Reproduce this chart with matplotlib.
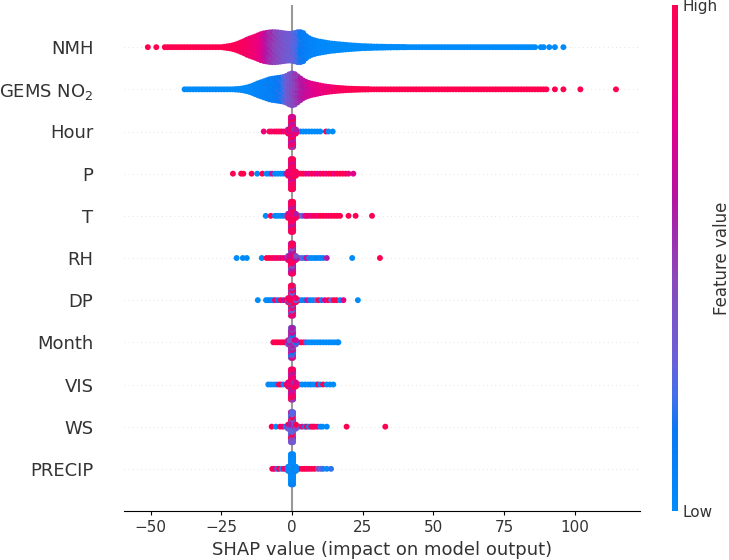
import numpy as np
import matplotlib
matplotlib.use("Agg")
import matplotlib.pyplot as plt
from matplotlib.colors import LinearSegmentedColormap, Normalize
from matplotlib.cm import ScalarMappable

features = ["NMH", "GEMS NO$_2$", "Hour", "P", "T", "RH", "DP", "Month", "VIS", "WS", "PRECIP"]
x_ticks = [-50, -25, 0, 25, 50, 75, 100]

# ---- large swarms: column SHAP value, half-height of the swarm (px), feature tone
nmh_x = [-51, -48, -45, -44, -43, -42, -41, -40, -39, -38, -37, -36, -35, -34, -33, -32, -31, -30, -29, -28, -27, -26,
         -25, -24, -23, -22, -21, -20, -19, -18, -17, -16, -15, -14, -13, -12, -11, -10, -9, -8, -7, -6, -5, -4, -3, -2, -1,
         0, 1, 2, 3, 4, 5, 6, 7, 8, 9, 10, 11, 12, 13, 14, 15, 16, 17, 18, 19, 20, 21, 22, 23, 24, 25, 26, 27, 28, 29, 30,
         31, 32, 33, 34, 35, 36, 37, 38, 39, 40, 41, 42, 43, 44, 45, 46, 47, 48, 49, 50, 51, 52, 53, 54, 55, 56, 57, 58, 59,
         60, 61, 62, 63, 64, 65, 66, 67, 68, 69, 70, 71, 72, 73, 74, 75, 76, 77, 78, 79, 80, 81, 82, 83, 84, 85, 86, 88, 89, 91, 93, 96]
nmh_h = [0]*22 + [0, 0.4, 0.8, 1.2, 1.8, 2.6, 3.6, 4.8, 6, 7.5, 8.6, 9.6, 10.6, 11.8, 13, 13.8, 14.3, 14.8, 15, 15, 14.8, 14.4, 14, 13.6, 13.4, 13.6,
       14.2, 15, 15, 14, 11, 9, 7.6, 6.8, 6, 5.5, 5, 4.5, 4, 3.6, 3.4, 3, 2.8, 2.5, 2.3, 2, 1.8, 1.6, 1.4, 1.2, 1, 1, 0.8, 0.8, 0.6, 0.6, 0.5, 0.5,
       0.4, 0.3, 0.3, 0.2, 0.2, 0.1, 0.1, 0.1] + [0]*(len(nmh_x)-88)
nmh_c = [1.0]*22 + [1.0, 1.0, 1.0, 0.99, 0.99, 0.98, 0.97, 0.95, 0.93, 0.92, 0.9, 0.88, 0.85, 0.82, 0.78, 0.7, 0.62, 0.56, 0.52, 0.48, 0.44, 0.41, 0.38, 0.35, 0.33, 0.3,
       0.27, 0.22, 0.16, 0.13, 0.1, 0.08, 0.06, 0.05, 0.04, 0.03, 0.02, 0.02, 0.01, 0.01] + [0.0]*(len(nmh_x)-62)

gems_x = [-38, -37, -36, -35, -34, -33, -32, -31, -30, -29, -28, -27, -26, -25, -24, -23, -22, -21, -20, -19, -18, -17, -16, -15, -14, -13, -12, -11, -10,
          -9, -8, -7, -6, -5, -4, -3, -2, -1, 0, 1, 2, 3, 4, 5, 6, 7, 8, 9, 10, 11, 12, 13, 14, 15, 16, 17, 18, 19, 20, 21, 22, 23, 24, 25, 26, 27, 28, 29,
          30, 31, 32, 33, 34, 35, 36, 37, 38, 39, 40, 41, 42, 43, 44, 45, 46, 47, 48, 49, 50, 51, 52, 53, 54, 55, 56, 57, 58, 59, 60, 61, 62, 63, 64, 65,
          66, 67, 68, 69, 70, 71, 72, 73, 74, 75, 76, 77, 78, 79, 80, 81, 82, 83, 84, 85, 86, 87, 88, 89, 90, 93, 96, 102, 114.6]
gems_h = [0]*18 + [0.2, 0.4, 0.7, 1.2, 1.8, 2.6, 3.6, 4.8, 6, 7, 8, 9, 10, 10.6, 11, 11.4, 11.8, 12.4, 13.4, 15, 16, 15.2, 13, 10.8, 8.8, 7.4, 6.4, 5.6, 5, 4.4, 3.8, 3.2, 2.8, 2.4, 2.1, 1.8, 1.5, 1.3, 1.1, 0.9, 0.7, 0.6,
       0.5, 0.4, 0.3, 0.2, 0.2, 0.1] + [0]*(len(gems_x)-64)
gems_c = [0.0]*18 + [0.0, 0.0, 0.01, 0.01, 0.02, 0.03, 0.03, 0.04, 0.05, 0.06, 0.07, 0.08, 0.09, 0.1, 0.12, 0.14, 0.17, 0.22, 0.29, 0.37, 0.42, 0.47, 0.52, 0.58, 0.63, 0.67, 0.7, 0.73, 0.76, 0.78, 0.8, 0.82, 0.84, 0.86, 0.88, 0.9, 0.92, 0.94, 0.95, 0.96, 0.97, 0.98,
       0.99, 0.99] + [1.0]*(len(gems_x)-62)

# ---- small rows: points along the row (SHAP value, tone)
hour_x = [-10, -8, -7.2, -6.2, -5.4, -4.6, -3.8, -3, -2.2, -1.5, 1, 2, 3, 4, 5, 6, 7, 8, 9, 10, 12, 12.9, 14.4]
hour_c = [0.85, 0.95, 0.95, 0.9, 1, 0.95, 1, 0.8, 1, 0.9, 0, 0, 0.1, 0, 0.02, 0, 0, 0, 0, 0, 1, 0, 0]
p_x = [-20.9, -18, -17.2, -14.3, -12.3, -10.5, -9, -8, -7, -6, -5, -4, -3, -2, -1, 1, 2, 3, 4, 5, 6, 7, 8, 9, 10, 11, 12, 13, 14, 15, 16, 17, 18, 19, 20, 21.7]
p_c = [1, 1, 1, 1, 0, 1, 0, 0.05, 0.75, 0.02, 0, 0, 0.02, 0.6, 0.4, 1, 1, 1, 1, 0.85, 0.75, 1, 0.9, 0.8, 0.85, 1, 0.8, 1, 1, 0.8, 1, 1, 1, 0.95, 0.85, 0.75]
t_x = [-9.3, -7.5, -6, -5, -4, -3, -2, -1, 1.6, 2.6, 3.6, 4.6, 5.2, 6, 7, 8, 9, 10, 11, 12, 13, 14, 15, 16, 17, 20, 22.5, 28.3]
t_c = [0, 1, 0.05, 0, 0.02, 0.1, 0.4, 0.6, 0.1, 0.05, 0.3, 0.6, 0.85, 0.9, 0.75, 1, 0.85, 1, 1, 1, 0.95, 1, 1, 1, 1, 1, 1, 1]
rh_x = [-19.6, -17.4, -16, -10.7, -9, -8, -7, -6, -5, -4, -3, -2, 1.6, 2.6, 3.6, 4.6, 5.2, 6, 7, 8, 9, 10, 11, 12.3, 21.3, 31.1]
rh_c = [0, 0, 0, 0, 1, 1, 1, 0.85, 1, 0.8, 0.9, 0.7, 0.1, 0.15, 0.3, 0.1, 0.8, 0.2, 0, 0, 0.05, 0, 0.1, 0.6, 0, 1]
dp_x = [-12.1, -9.2, -8.4, -7.6, -6.8, -6, -5, -4, -3, -2, 1.4, 2.4, 3.4, 4.4, 5.4, 6.4, 7.4, 8.4, 9.4, 10.4, 11.6, 12.8, 13.8, 14.8, 15.8, 17, 18.2, 23.3]
dp_c = [0, 0, 0, 0.05, 0, 0.9, 0.15, 1, 0.6, 0.9, 0.1, 0.8, 0.05, 0.1, 0.7, 0.1, 0.02, 0.3, 1, 0.1, 0.75, 1, 0.3, 1, 1, 0, 0.8, 0]
month_x = [-6.6, -5.8, -5, -4.2, -3.4, -2.6, -1.8, -1.3, 2.2, 3.2, 4.2, 5, 6, 7, 8, 9, 10, 11, 12, 13, 14, 15, 16, 16.4]
month_c = [1, 1, 1, 1, 1, 1, 0.9, 0.8, 0.3, 1, 1, 0.2, 0, 0, 0, 0, 0, 0, 0, 0, 0, 0, 0.02, 0.02]
vis_x = [-8.4, -7.5, -6.5, -5.5, -4.6, -3.8, -3, -2, 1.6, 2.6, 3.6, 4.6, 5.6, 6.6, 7.6, 8.6, 9.2, 10, 11, 12.3, 13.4, 14.6]
vis_c = [0, 0, 0, 0.05, 1, 0.9, 0, 0.9, 0, 0.4, 0, 0.02, 0, 0.05, 0, 0, 1, 0, 1, 0, 0, 0]
ws_x = [-7.2, -5.7, -4.2, -3.2, -2.2, -1.4, 1.6, 2.6, 3.6, 4.6, 5.2, 6, 6.8, 7.4, 8, 9, 10, 10.8, 12.3, 19.3, 33]
ws_c = [1, 0, 1, 0.85, 0.2, 0.6, 0.3, 0.1, 0.85, 0.05, 1, 0, 1, 0.9, 1, 0.85, 0.05, 0, 0, 1, 1]
precip_x = [-7, -6.2, -5.2, -4.6, -3.6, -2.8, -2, -1.4, 1.6, 2.6, 3.6, 4.4, 5.2, 6, 7, 8, 9.2, 10.2, 11, 12.3, 13.8]
precip_c = [1, 0.9, 0.1, 0.95, 0.2, 1, 0.7, 0.1, 0.05, 0.95, 1, 1, 1, 0.95, 1, 1, 0.4, 0.3, 0.2, 0, 0.2]

# ---- central stack of each small row: half-height (px) and the tones met going up it
small_rows = [("Hour", hour_x, hour_c, 15.5, [0.95, 0.8, 0.6, 1.0, 0.7, 0.9, 0.5]),
              ("P", p_x, p_c, 15.5, [1.0, 0.9, 0.95, 0.7, 1.0, 0.85, 1.0]),
              ("T", t_x, t_c, 16, [0.95, 1.0, 0.6, 0.9, 1.0, 0.85, 0.95]),
              ("RH", rh_x, rh_c, 15.5, [0.85, 0.6, 0.4, 0.9, 1.0, 0.7, 0.95]),
              ("DP", dp_x, dp_c, 15.5, [0.9, 0.3, 0.9, 0.5, 1.0, 0.95, 0.85]),
              ("Month", month_x, month_c, 15.5, [0.4, 0.15, 0.7, 0.5, 0.6, 0.35, 0.8]),
              ("VIS", vis_x, vis_c, 15, [1.0, 0.9, 0.8, 0.6, 0.95, 0.85, 0.5]),
              ("WS", ws_x, ws_c, 15.5, [0.35, 0.45, 1.0, 0.3, 0.25, 0.6, 0.35]),
              ("PRECIP", precip_x, precip_c, 15.5, [0.05, 0.0, 0.02, 0.0, 0.05, 0.0, 0.1])]

shap_cmap = LinearSegmentedColormap.from_list("red_blue", [
    (0.0, "#008bfb"), (0.16, "#0a78f2"), (0.22, "#3f70ea"), (0.30, "#6a60d8"),
    (0.46, "#8a48bc"), (0.62, "#b414a2"), (0.77, "#e4008c"), (1.0, "#ff0051")])
norm = Normalize(0, 1)

W, H = 729, 560
fig = plt.figure(figsize=(W/100, H/100), dpi=100)
ax = fig.add_axes([124/W, 1-511/H, (640-124)/W, (511-5)/H])
ax.set_xlim((124-292)/2.827, (640-292)/2.827)
ax.set_ylim(-1, len(features))
row_px = 42.2
DOT = 18

ypos = {name: len(features)-1-i for i, name in enumerate(["NMH", "GEMS", "Hour", "P", "T", "RH", "DP", "Month", "VIS", "WS", "PRECIP"])}
for i in range(len(features)):
    ax.axhline(i, color="#cccccc", lw=0.5, dashes=(1, 5), zorder=-1)
ax.axvline(0, color="#999999", lw=1.5, zorder=-1)

shift = [0.0, 0.03, -0.02, 0.04, -0.03, 0.01, -0.01]
for name, xs, hs, cs in [("NMH", nmh_x, nmh_h, nmh_c), ("GEMS", gems_x, gems_h, gems_c)]:
    px, py, pc = [], [], []
    for j, (x, h, c) in enumerate(zip(xs, hs, cs)):
        n = int(np.ceil(2*h/2.5)) + 1
        offs = np.linspace(-h, h, n) if h > 0 else np.array([0.0])
        for k, o in enumerate(offs):
            px.append(x); py.append(ypos[name]+o/row_px)
            tweak = shift[(j+k) % 7] if 0.05 < c < 0.95 else 0
            pc.append(np.clip(c+tweak, 0, 1))
    ax.scatter(px, py, c=pc, s=DOT, cmap=shap_cmap, norm=norm, linewidths=0, zorder=3)

for name, xs, cs, half, tones in small_rows:
    y = ypos[name]
    ax.scatter(xs, [y]*len(xs), c=cs, s=DOT, cmap=shap_cmap, norm=norm, linewidths=0, zorder=3)
    # thick shoulder and tall central stack around zero
    px, py, pc = [], [], []
    for side, dx in enumerate([-0.4, 0.4, 0.0]):
        offs = np.arange(-half, half+1e-6, 2.5)
        for k, o in enumerate(offs):
            px.append(dx); py.append(y+o/row_px); pc.append(tones[(k+side*3) % len(tones)])
    for dx in [-1.4, -0.9, 0.9, 1.4]:
        for k, o in enumerate([-2, 0, 2]):
            px.append(dx); py.append(y+o/row_px); pc.append(tones[(k+int(dx*5)) % len(tones)])
    ax.scatter(px, py, c=pc, s=DOT, cmap=shap_cmap, norm=norm, linewidths=0, zorder=4)

ax.set_yticks(range(len(features)))
ax.set_yticklabels(features[::-1], fontsize=13)
ax.set_xticks(x_ticks)
ax.set_xticklabels(["\u2212%d" % -v if v < 0 else str(v) for v in x_ticks], fontsize=11)
ax.tick_params(axis="y", length=0, pad=22, labelcolor="#333333")
ax.tick_params(axis="x", length=3, labelcolor="#333333", color="black")
for s in ["top", "left", "right"]:
    ax.spines[s].set_visible(False)
ax.set_xlabel("SHAP value (impact on model output)", fontsize=13, labelpad=4, color="#333333")

cax = fig.add_axes([672/W, 1-511/H, 6/W, (511-5)/H])
cb = fig.colorbar(ScalarMappable(norm=norm, cmap=shap_cmap), cax=cax)
cb.set_ticks([0, 1], labels=["Low", "High"])
cb.ax.tick_params(labelsize=11, length=0, pad=3.5, labelcolor="#333333")
cb.outline.set_visible(False)
cb.set_label("Feature value", size=12, labelpad=-3.4, color="#333333")

fig.savefig("out.png", dpi=100)
